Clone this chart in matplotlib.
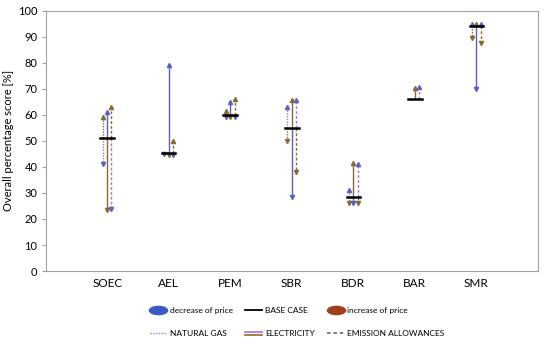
import numpy as np
import matplotlib
matplotlib.use("Agg")
import matplotlib.pyplot as plt
from matplotlib.lines import Line2D
from matplotlib.path import Path
from matplotlib.transforms import Affine2D
from matplotlib.legend_handler import HandlerBase

plt.rcParams['font.family'] = ['Lato', 'DejaVu Sans']

technologies = ['SOEC', 'AEL', 'PEM', 'SBR', 'BDR', 'BAR', 'SMR']
base_case = [51, 45.5, 60, 55, 28.3, 66, 94.2]

# score when the price goes down / up, for each price driver
ng_dec = [41, 44.8, 59.2, 63, 31, 66, 95]
ng_inc = [59, 45.8, 61.5, 50, 26.3, 66, 89.3]
el_dec = [61, 79, 65, 28.5, 26, 66, 69.9]
el_inc = [23.5, 44.5, 59.2, 65.6, 41.4, 70.3, 95]
ea_dec = [24, 44.5, 59.2, 65.6, 41, 70.5, 95]
ea_inc = [63, 50, 66, 38.2, 26.3, 66, 87.4]

blue = '#5a5fcf'
brown = '#8c6a2c'
purple = '#b070d8'

fig = plt.figure(figsize=(5.5, 3.41), dpi=100)
ax = fig.add_axes([0.083, 0.205, 0.895, 0.764])

x = np.arange(1, len(technologies) + 1)
drivers = [(ng_dec, ng_inc, (0, (1, 1)), -0.07),
           (el_dec, el_inc, '-', 0.0),
           (ea_dec, ea_inc, (0, (2, 1.5)), 0.07)]

for dec, inc, ls, off in drivers:
    for i in range(len(x)):
        xx = x[i] + off
        b = base_case[i]
        for val, col in ((dec[i], blue), (inc[i], brown)):
            if abs(val - b) < 0.3:
                continue
            lcol = col
            if ls != '-':
                lcol = purple if col == blue else brown
            ax.plot([xx, xx], [b, val], color=lcol, lw=1.0, ls=ls, zorder=2)
            mk = '^' if val > b else 'v'
            ax.plot(xx, val, marker=mk, color=col, ms=3, zorder=3)

for i in range(len(x)):
    ax.plot([x[i] - 0.11, x[i] + 0.11], [base_case[i], base_case[i]],
            color='black', lw=1.8, zorder=4)

ax.set_xlim(0, 8)
ax.set_ylim(0, 100)
ax.set_yticks(np.arange(0, 101, 10))
ax.set_xticks(x)
ax.set_xticklabels(technologies)
ax.tick_params(axis='x', length=0, labelsize=8.5, pad=5)
ax.tick_params(axis='y', length=3, labelsize=8, color='#a0a0a0', pad=3)
for s in ax.spines.values():
    s.set_color('#a0a0a0')
ax.set_ylabel('Overall percentage score [%]', fontsize=8)
ax.yaxis.set_label_coords(-0.064, 0.5)


class DoubleLine(HandlerBase):
    def create_artists(self, legend, orig, xd, yd, w, h, fs, trans):
        y = yd + h / 2
        l1 = Line2D([xd, xd + w], [y + 1.2, y + 1.2], color=purple, lw=1.2, transform=trans)
        l2 = Line2D([xd, xd + w], [y - 1.2, y - 1.2], color=brown, lw=1.2, transform=trans)
        return [l1, l2]


ell = Path.unit_circle().transformed(Affine2D().scale(2.2, 1.0))
h_dec = Line2D([], [], ls='none', marker=ell, ms=13, color='#3a5bc7')
h_inc = Line2D([], [], ls='none', marker=ell, ms=13, color='#a0401a')
h_base = Line2D([], [], color='black', lw=1.3)
h_ng = Line2D([], [], color=purple, lw=1, ls=(0, (1, 1)))
h_el = Line2D([], [], color=purple)
h_ea = Line2D([], [], color='#8a6a60', lw=1.3, ls=(0, (2, 1.5)))

handles = [h_dec, h_ng, h_base, h_el, h_inc, h_ea]
labels = ['decrease of price', 'NATURAL GAS', 'BASE CASE', 'ELECTRICITY',
          'increase of price', 'EMISSION ALLOWANCES']
fig.legend(handles, labels, ncol=3, loc='center', bbox_to_anchor=(0.54, 0.056),
           frameon=False, fontsize=6, handlelength=2.0, columnspacing=1.5,
           labelspacing=2.0, handletextpad=0.4,
           handler_map={h_el: DoubleLine()})

fig.savefig('out.png', dpi=100)
